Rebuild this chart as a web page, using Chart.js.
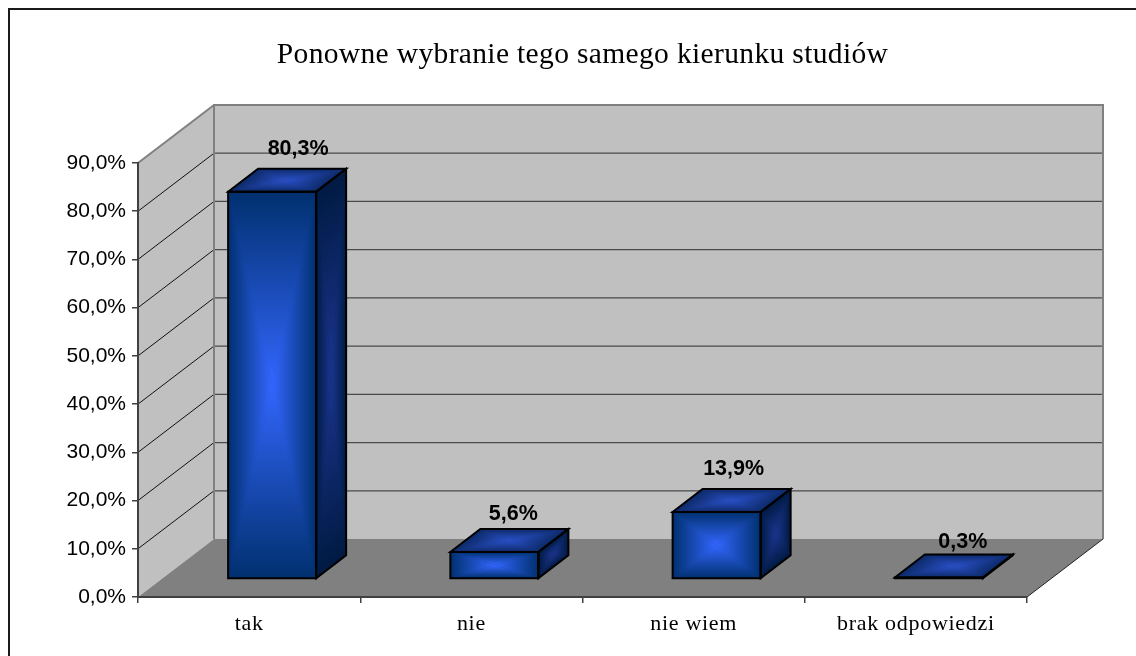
<!DOCTYPE html>
<html><head><meta charset="utf-8">
<style>html,body{margin:0;padding:0;background:#fff}canvas{display:block}</style>
<script src="https://cdn.jsdelivr.net/npm/chart.js@4/dist/chart.umd.min.js"></script>
</head><body><canvas id="c" width="1136" height="656"></canvas>
<script>
const titleText = 'Ponowne wybranie tego samego kierunku studiów';
const categories = ['tak', 'nie', 'nie wiem', 'brak odpowiedzi'];
const values = [80.3, 5.6, 13.9, 0.3];
const yMax = 90;
const yStep = 10;

const fmt = v => v.toFixed(1).replace('.', ',') + '%';
const WALL = {dx: 76, dy: -58};          // depth of the box
const BAR_SHIFT = {dx: 23, dy: -18};     // bars sit mid-depth on the floor
const BAR_DEPTH = {dx: 30, dy: -23};
const labelNudgeX = [26, 19, 17, 24];
const labelNudgeY = [20, 15, 20, 12];
const SERIF_TITLE_SPACING = '0.35px';
const SERIF_TICK_SPACING = '0.7px';

function paintFace(ctx, p, u, v, edge, centre) {
  ctx.save();
  ctx.transform(u.x, u.y, v.x, v.y, p.x, p.y);
  const tris = [
    [[0,0],[1,0],[0.5,0],[0.5,0.5]],
    [[1,0],[1,1],[1,0.5],[0.5,0.5]],
    [[1,1],[0,1],[0.5,1],[0.5,0.5]],
    [[0,1],[0,0],[0,0.5],[0.5,0.5]]
  ];
  ctx.fillStyle = edge;
  ctx.fillRect(0, 0, 1, 1);
  tris.forEach(t => {
    const g = ctx.createLinearGradient(t[2][0], t[2][1], t[3][0], t[3][1]);
    g.addColorStop(0, edge);
    g.addColorStop(1, centre);
    ctx.fillStyle = g;
    ctx.beginPath();
    ctx.moveTo(t[0][0], t[0][1]);
    ctx.lineTo(t[1][0], t[1][1]);
    ctx.lineTo(0.5, 0.5);
    ctx.closePath();
    ctx.fill();
    ctx.strokeStyle = g;
    ctx.lineWidth = 0.004;
    ctx.stroke();
  });
  ctx.restore();
}

function poly(ctx, pts) {
  ctx.beginPath();
  pts.forEach((p, i) => i ? ctx.lineTo(p[0], p[1]) : ctx.moveTo(p[0], p[1]));
  ctx.closePath();
}
function seg(ctx, a, b, col, w) {
  ctx.strokeStyle = col; ctx.lineWidth = w;
  ctx.beginPath(); ctx.moveTo(a[0], a[1]); ctx.lineTo(b[0], b[1]); ctx.stroke();
}

const box3d = {
  id: 'box3d',
  beforeDraw(chart) {
    const {ctx} = chart, area = chart.chartArea, y = chart.scales.y;
    const L = area.left, R = area.right, T = area.top, B = area.bottom;
    const dx = WALL.dx, dy = WALL.dy;

    if (!chart.$wrapped) {
      chart.$wrapped = true;
      const tb = chart.titleBlock, td = tb.draw;
      tb.draw = function () { ctx.save(); ctx.letterSpacing = SERIF_TITLE_SPACING; td.apply(this, arguments); ctx.restore(); };
      const sx = chart.scales.x, sd = sx.drawLabels;
      sx.drawLabels = function () { ctx.save(); ctx.letterSpacing = SERIF_TICK_SPACING; sd.apply(this, arguments); ctx.restore(); };
    }

    // frame (top and left only)
    seg(ctx, [9, 9], [1136, 9], '#1a1a1a', 2);
    seg(ctx, [9, 8], [9, 656], '#1a1a1a', 2);

    // walls
    ctx.fillStyle = '#c0c0c0';
    poly(ctx, [[L, B], [L, T], [L + dx, T + dy], [L + dx, B + dy]]); ctx.fill();
    ctx.fillRect(L + dx, T + dy, R - L, B - T);
    // floor
    ctx.fillStyle = '#808080';
    poly(ctx, [[L, B], [L + dx, B + dy], [R + dx, B + dy], [R, B]]); ctx.fill();

    // gridlines on the walls
    y.ticks.forEach(t => {
      if (t.value <= 0 || t.value >= yMax) return;
      const py = y.getPixelForValue(t.value);
      seg(ctx, [L, py], [L + dx, py + dy], '#111111', 1);
      seg(ctx, [L + dx, py + dy], [R + dx, py + dy], '#4a4a4a', 1.2);
    });

    // wall edges
    seg(ctx, [L, T], [L + dx, T + dy], '#808080', 2);
    seg(ctx, [L + dx - 1, T + dy], [R + dx + 1, T + dy], '#808080', 2);
    seg(ctx, [L + dx, T + dy], [L + dx, B + dy], '#808080', 2);
    seg(ctx, [R + dx, T + dy], [R + dx, B + dy], '#808080', 2);
    seg(ctx, [R, B], [R + dx, B + dy], '#222222', 1);
  },
  beforeDatasetsDraw(chart) {
    chart.ctx.save();
    chart.ctx.translate(BAR_SHIFT.dx, BAR_SHIFT.dy);
  },
  afterDatasetsDraw(chart) {
    const {ctx} = chart;
    const d = BAR_DEPTH;
    const bars = chart.getDatasetMeta(0).data;
    bars.forEach(b => {
      const l = b.x - b.width / 2, r = b.x + b.width / 2, t = b.y, bt = b.base;
      const h = bt - t, w = r - l;
      paintFace(ctx, {x: r, y: t}, {x: d.dx, y: d.dy}, {x: 0, y: h}, '#001a42', '#1b3590');
      paintFace(ctx, {x: l, y: t}, {x: w, y: 0}, {x: d.dx, y: d.dy}, '#0c2a68', '#2a50c8');
      if (h > 3) paintFace(ctx, {x: l, y: t}, {x: w, y: 0}, {x: 0, y: h}, '#00306e', '#3366ff');
      ctx.strokeStyle = '#000'; ctx.lineWidth = 2; ctx.lineJoin = 'miter';
      poly(ctx, [[l, t], [r, t], [r, bt], [l, bt]]); ctx.stroke();
      poly(ctx, [[r, t], [r + d.dx, t + d.dy], [r + d.dx, bt + d.dy], [r, bt]]); ctx.stroke();
      poly(ctx, [[l, t], [l + d.dx, t + d.dy], [r + d.dx, t + d.dy], [r, t]]); ctx.stroke();
    });
    ctx.fillStyle = '#000';
    ctx.font = 'bold 21.5px "Liberation Sans", Arial, sans-serif';
    ctx.textAlign = 'center';
    ctx.textBaseline = 'middle';
    bars.forEach((b, i) => {
      ctx.fillText(fmt(values[i]), b.x + labelNudgeX[i], b.y + d.dy - labelNudgeY[i]);
    });
    ctx.restore();
  }
};

new Chart(document.getElementById('c'), {
  type: 'bar',
  data: {
    labels: categories,
    datasets: [{
      data: values,
      backgroundColor: '#2450c0',
      borderWidth: 0,
      categoryPercentage: 0.396,
      barPercentage: 1
    }]
  },
  plugins: [box3d],
  options: {
    responsive: false,
    animation: false,
    layout: {padding: {left: 0, right: 109, top: 0, bottom: 0}},
    plugins: {
      legend: {display: false},
      tooltip: {enabled: false},
      title: {
        display: true,
        text: titleText,
        fullSize: false,
        color: '#000',
        font: {family: '"Liberation Serif", serif', size: 29.5, weight: 'normal', lineHeight: 1.2},
        padding: {top: 38, bottom: 89.6}
      }
    },
    scales: {
      x: {
        afterFit: s => { s.height = 59; },
        border: {color: '#404040', width: 2},
        grid: {drawOnChartArea: false, color: '#404040', tickLength: 6, lineWidth: 1.5},
        ticks: {color: '#000', padding: 8, maxRotation: 0,
          font: {family: '"Liberation Serif", serif', size: 22}}
      },
      y: {
        min: 0, max: yMax,
        afterFit: s => { s.width = 138; },
        border: {color: '#404040', width: 2},
        grid: {drawOnChartArea: false, color: '#404040', tickLength: 6, lineWidth: 1.5},
        ticks: {stepSize: yStep, color: '#000', padding: 6,
          callback: v => fmt(v),
          font: {family: '"Liberation Sans", Arial, sans-serif', size: 21}}
      }
    }
  }
});
</script></body></html>
